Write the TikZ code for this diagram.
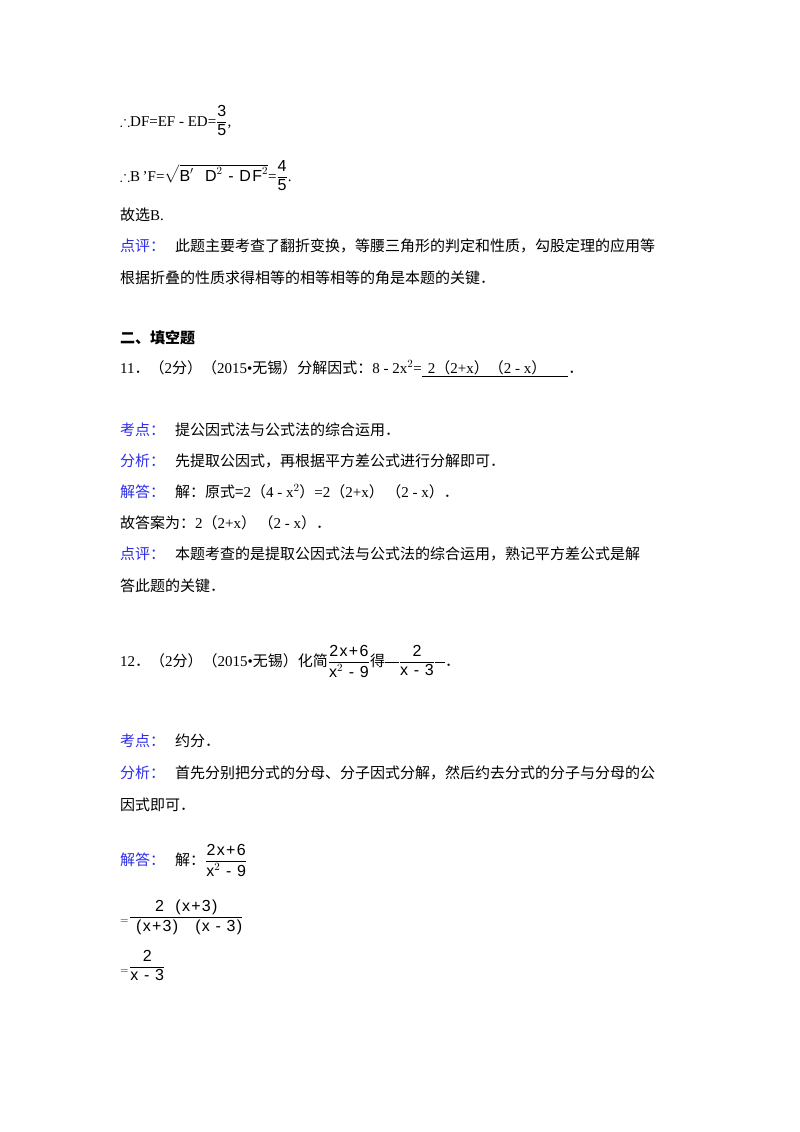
\documentclass[tikz,border=0pt]{standalone}
\usepackage{amssymb}
\usepackage{fontspec}
\setmainfont{Liberation Serif}
\newfontfamily\cjk{Noto Sans CJK SC}
\newfontfamily\mono{Liberation Sans}[LetterSpace=8]
\newcommand{\mm}[1]{\mbox{\fontsize{16}{18}\selectfont\mono #1}}
\newcommand{\fr}[2]{\displaystyle\frac{\mm{#1}}{\mm{#2}}}
\newcommand{\dt}{{\cjk ．}}
\definecolor{lbl}{RGB}{45,45,235}
\begin{document}
\begin{tikzpicture}[x=1pt,y=-1pt,
  t/.style={anchor=base west,inner sep=0pt,font=\fontsize{15}{18}\selectfont}]
\useasboundingbox (0,0) rectangle (800,1132);
\fill[white] (0,0) rectangle (800,1132);
\node[t] (l1) at (120,126) {$\therefore$DF=EF - ED=$\fr{3}{5}$,};
\node[t] (l2) at (120,181) {$\therefore$B\,'F=$\sqrt{\mm{B$'$\ \ D$^2$ - DF$^2$}}$=$\fr{4}{5}$.};
\node[t] (l3) at (120,220) {{\cjk 故选}B.};
\node[t] (l4) at (120,251) {{\cjk\color{lbl}点评：}\hspace{10pt}{\cjk 此题主要考查了翻折变换，等腰三角形的判定和性质，勾股定理的应用等}};
\node[t] (l5) at (120,283) {{\cjk 根据折叠的性质求得相等的相等相等的角是本题的关键．}};
\node[t] (h) at (120,343) {{\cjk\bfseries 二、填空题}};
\node[t] (q11) at (120,373) {11\dt{\cjk（}2{\cjk 分）（}2015\textbullet{\cjk 无锡）分解因式：}8 - 2x$^{2}$=\underline{\hspace{6pt}2{\cjk（}2+x{\cjk）（}2 - x{\cjk）}\hspace{22pt}}\dt};
\node[t] (a1) at (120,435) {{\cjk\color{lbl}考点：}\hspace{10pt}{\cjk 提公因式法与公式法的综合运用．}};
\node[t] (a2) at (120,466) {{\cjk\color{lbl}分析：}\hspace{10pt}{\cjk 先提取公因式，再根据平方差公式进行分解即可．}};
\node[t] (a3) at (120,497) {{\cjk\color{lbl}解答：}\hspace{10pt}{\cjk 解：原式=}2{\cjk（}4 - x$^2${\cjk）}=2{\cjk（}2+x{\cjk）\,（}2 - x{\cjk）}\dt};
\node[t] (a4) at (120,528) {{\cjk 故答案为：}2{\cjk（}2+x{\cjk）\,（}2 - x{\cjk）}\dt};
\node[t] (a5) at (120,559) {{\cjk\color{lbl}点评：}\hspace{10pt}{\cjk 本题考查的是提取公因式法与公式法的综合运用，熟记平方差公式是解}};
\node[t] (a6) at (120,591) {{\cjk 答此题的关键．}};
\node[t] (q12) at (120,666) {12\dt{\cjk（}2{\cjk 分）（}2015\textbullet{\cjk 无锡）化简}$\fr{2x+6}{x$^2$\ - 9}${\cjk 得}\rule[4pt]{14pt}{0.5pt}$\fr{2}{x - 3}$\rule[4pt]{10pt}{0.5pt}\dt};
\node[t] (b1) at (120,746) {{\cjk\color{lbl}考点：}\hspace{10pt}{\cjk 约分．}};
\node[t] (b2) at (120,778) {{\cjk\color{lbl}分析：}\hspace{10pt}{\cjk 首先分别把分式的分母、分子因式分解，然后约去分式的分子与分母的公}};
\node[t] (b3) at (120,810) {{\cjk 因式即可．}};
\node[t] (b4) at (120,865) {{\cjk\color{lbl}解答：}\hspace{10pt}{\cjk 解：}$\fr{2x+6}{x$^2$\ - 9}$};
\node[t] (b5) at (120,921) {$_=\fr{2\ \ (x+3)}{\ (x+3)\ \ \ (x - 3)}$};
\node[t] (b6) at (120,971) {$_=\fr{2}{x - 3}$};
\end{tikzpicture}
\end{document}
